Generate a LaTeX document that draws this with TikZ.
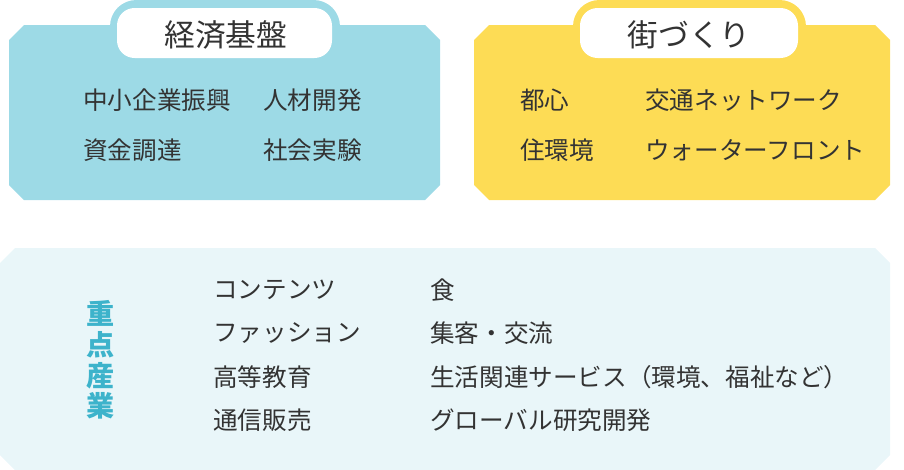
\documentclass[tikz,border=0pt]{standalone}
\usepackage{fontspec}
\setmainfont{Noto Sans CJK JP}
\definecolor{econblue}{HTML}{9DDAE6}
\definecolor{townyellow}{HTML}{FDDC55}
\definecolor{indpale}{HTML}{E9F6F9}
\definecolor{indtext}{HTML}{3DB3CB}
\definecolor{inktext}{HTML}{333333}
\tikzset{
  item/.style={anchor=west, inner sep=0pt, text=inktext, font=\fontsize{14}{16}\selectfont},
  tabtitle/.style={text=inktext, font=\fontsize{17.5}{20}\selectfont},
}
\begin{document}
\begin{tikzpicture}[x=0.02cm, y=-0.02cm]
\useasboundingbox (0,0) rectangle (904,470);

% economy panel
\fill [econblue] (24,25) -- (425,25) -- (440,40) -- (440,185) -- (425,200)
  -- (24,200) -- (9,185) -- (9,40) -- cycle;
\fill [econblue, rounded corners=15] (110,0) rectangle (340,60);
\fill [white, rounded corners=10] (117,8) rectangle (332,58);
\node [tabtitle] (econ) at (226,35) {経済基盤};
\node [item] (e1) at (83,100) {中小企業振興};
\node [item] (e2) at (263,100) {人材開発};
\node [item] (e3) at (83,150) {資金調達};
\node [item] (e4) at (263,150) {社会実験};

% town panel
\fill [townyellow] (489,25) -- (875,25) -- (890,40) -- (890,185) -- (875,200)
  -- (489,200) -- (474,185) -- (474,40) -- cycle;
\fill [townyellow, rounded corners=15] (573,0) rectangle (806,60);
\fill [white, rounded corners=10] (580,8) rectangle (798,58);
\node [tabtitle] (town) at (689,35) {街づくり};
\node [item] (t1) at (520,100) {都心};
\node [item] (t2) at (645,100) {交通ネットワーク};
\node [item] (t3) at (520,150) {住環境};
\node [item] (t4) at (645,150) {ウォーターフロント};

% industry panel
\fill [indpale] (15,248) -- (875,248) -- (890,263) -- (890,455) -- (875,470)
  -- (15,470) -- (0,455) -- (0,263) -- cycle;
\node [text=indtext, font=\fontsize{16}{17.5}\selectfont\bfseries, align=center]
  (ind) at (101,360) {重\\点\\産\\業};
\node [item] (i1) at (213,290) {コンテンツ};
\node [item] (i2) at (213,333) {ファッション};
\node [item] (i3) at (213,377) {高等教育};
\node [item] (i4) at (213,420) {通信販売};
\node [item] (i5) at (430,290) {食};
\node [item] (i6) at (430,333) {集客・交流};
\node [item] (i7) at (430,377) {生活関連サービス（環境、福祉など）};
\node [item] (i8) at (430,420) {グローバル研究開発};
\end{tikzpicture}
\end{document}
